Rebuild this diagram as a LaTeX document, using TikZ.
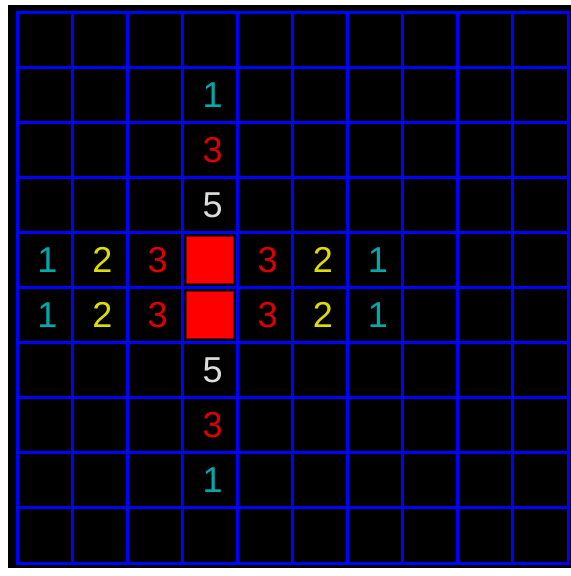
\documentclass[tikz,border=0pt]{standalone}
\usepackage{fontspec}
\setmainfont{Liberation Sans}
\definecolor{gridBlue}{HTML}{0000FF}
\definecolor{countCyan}{HTML}{00AAAA}
\definecolor{countYellow}{HTML}{DDDD00}
\definecolor{countRed}{HTML}{DD0000}
\definecolor{countWhite}{HTML}{DDDDDD}
\definecolor{wallRed}{HTML}{FF0000}
\definecolor{wallEdge}{HTML}{800000}

\begin{document}
\begin{tikzpicture}[x=55.1pt, y=-55.1pt,
    count/.style={inner sep=0pt, font=\fontsize{36}{36}\selectfont}]

    \useasboundingbox[fill=white] (-0.309,-0.218) rectangle (10.054,10.236);
    \fill[black] (-0.163,-0.127) rectangle (10.054,10.09);

    \foreach \i in {0,...,10} {
        \draw[gridBlue, line width=3pt, line cap=rect] (\i,0) -- (\i,10);
        \draw[gridBlue, line width=3pt, line cap=rect] (0,\i) -- (10,\i);
    }

    % blocked cells
    \foreach \r in {4,5}
        \filldraw[fill=wallRed, draw=wallEdge, line width=1pt]
            (3.07,\r+0.07) rectangle (3.93,\r+0.93);

    % distance counts
    \foreach \c/\r/\v/\col in {3/1/1/countCyan, 3/2/3/countRed, 3/3/5/countWhite,
        0/4/1/countCyan, 1/4/2/countYellow, 2/4/3/countRed,
        4/4/3/countRed, 5/4/2/countYellow, 6/4/1/countCyan,
        0/5/1/countCyan, 1/5/2/countYellow, 2/5/3/countRed,
        4/5/3/countRed, 5/5/2/countYellow, 6/5/1/countCyan,
        3/6/5/countWhite, 3/7/3/countRed, 3/8/1/countCyan}
        \node[count, text=\col] (n\c\r) at (\c+0.55,\r+0.5) {\v};
\end{tikzpicture}
\end{document}
